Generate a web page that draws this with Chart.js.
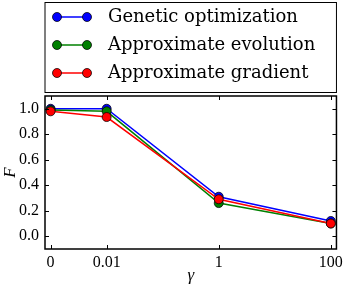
<!DOCTYPE html>
<html>
<head>
<meta charset="utf-8">
<script src="https://cdn.jsdelivr.net/npm/chart.js@4"></script>
<style>
  html, body { margin: 0; padding: 0; background: #fff; }
</style>
</head>
<body>
<canvas id="chart" width="347" height="284"></canvas>
<script>
// gamma values on the x axis; the "0" point is placed one decade below 0.01
const gammaValues = [0.001, 0.01, 1, 100];
const gammaLabels = ["0", "0.01", "1", "100"];
const fTicks = [0, 0.2, 0.4, 0.6, 0.8, 1.0];

const geneticOptimization = [1.0, 1.0, 0.31, 0.12];
const approxEvolution = [0.99, 0.98, 0.26, 0.10];
const approxGradient = [0.98, 0.935, 0.29, 0.10];

const seriesNames = ["Genetic optimization", "Approximate evolution", "Approximate gradient"];
const seriesColors = ["#0000ff", "#008000", "#ff0000"];

const serif = "'Liberation Serif', 'DejaVu Serif', serif";
const legendFont = "18px 'DejaVu Serif', serif";

function makeDataset(i, values) {
  return {
    label: seriesNames[i],
    data: values.map((v, k) => ({ x: gammaValues[k], y: v })),
    borderColor: seriesColors[i],
    backgroundColor: seriesColors[i],
    borderWidth: 1.5,
    pointRadius: 4.5,
    pointBorderColor: "#000",
    pointBorderWidth: 0.75,
    pointBackgroundColor: seriesColors[i],
    tension: 0,
    order: 3 - i, // later series drawn on top
  };
}

// legend drawn as a framed box above the plot, like matplotlib
const boxLegend = {
  id: "boxLegend",
  afterDraw(chart) {
    const ctx = chart.ctx;
    const a = chart.chartArea;
    ctx.save();
    ctx.fillStyle = "#fff";
    ctx.fillRect(a.left, 2.5, a.right - a.left, 90);
    ctx.strokeStyle = "#000";
    ctx.lineWidth = 1;
    ctx.strokeRect(a.left, 2.5, a.right - a.left, 90);
    ctx.font = legendFont;
    ctx.textBaseline = "middle";
    chart.data.datasets.forEach((ds, i) => {
      const y = 17 + i * 28;
      const x0 = a.left + 12, x1 = a.left + 42;
      ctx.strokeStyle = ds.borderColor;
      ctx.lineWidth = 1.5;
      ctx.beginPath();
      ctx.moveTo(x0, y);
      ctx.lineTo(x1, y);
      ctx.stroke();
      [x0, x1].forEach(px => {
        ctx.beginPath();
        ctx.arc(px, y, 4.5, 0, Math.PI * 2);
        ctx.fillStyle = ds.backgroundColor;
        ctx.fill();
        ctx.lineWidth = 0.75;
        ctx.strokeStyle = "#000";
        ctx.stroke();
      });
      ctx.fillStyle = "#000";
      ctx.fillText(ds.label, a.left + 63, y);
    });
    ctx.restore();
  }
};

// plot frame with inward tick marks on all four sides
const frameTicks = {
  id: "frameTicks",
  afterDatasetsDraw(chart) {
    const ctx = chart.ctx;
    const a = chart.chartArea;
    const x = chart.scales.x, y = chart.scales.y;
    ctx.save();
    ctx.strokeStyle = "#000";
    ctx.lineWidth = 1;
    ctx.beginPath();
    x.ticks.forEach(t => {
      const px = Math.round(x.getPixelForValue(t.value)) + 0.5;
      ctx.moveTo(px, a.top); ctx.lineTo(px, a.top + 4);
      ctx.moveTo(px, a.bottom); ctx.lineTo(px, a.bottom - 4);
    });
    y.ticks.forEach(t => {
      const py = Math.round(y.getPixelForValue(t.value)) + 0.5;
      ctx.moveTo(a.left, py); ctx.lineTo(a.left + 4, py);
      ctx.moveTo(a.right, py); ctx.lineTo(a.right - 4, py);
    });
    ctx.stroke();
    ctx.lineWidth = 1.5;
    ctx.strokeRect(a.left, a.top, a.right - a.left, a.bottom - a.top);
    ctx.restore();
  }
};

new Chart(document.getElementById("chart"), {
  type: "line",
  data: {
    datasets: [
      makeDataset(0, geneticOptimization),
      makeDataset(1, approxEvolution),
      makeDataset(2, approxGradient),
    ],
  },
  options: {
    responsive: false,
    animation: false,
    devicePixelRatio: 1,
    layout: { padding: { top: 96, right: 8, left: 0, bottom: 0 } },
    plugins: { legend: { display: false }, tooltip: { enabled: false } },
    scales: {
      x: {
        type: "logarithmic",
        min: Math.pow(10, -3.1),
        max: Math.pow(10, 2.1),
        afterBuildTicks: s => { s.ticks = gammaValues.map(v => ({ value: v })); },
        afterFit: s => { s.height = 35; },
        ticks: {
          callback: (v, i) => gammaLabels[i],
          autoSkip: false,
          maxRotation: 0,
          padding: 4,
          color: "#000",
          font: { family: serif, size: 16 },
        },
        grid: { display: false, drawTicks: false },
        border: { display: false },
        title: {
          display: true,
          text: "γ",
          color: "#000",
          padding: 0,
          font: { family: serif, size: 17, style: "italic", lineHeight: 1 },
        },
      },
      y: {
        min: -0.1,
        max: 1.1,
        afterBuildTicks: s => { s.ticks = fTicks.map(v => ({ value: v })); },
        afterFit: s => { s.width = 45; },
        ticks: {
          callback: v => v.toFixed(1),
          padding: 6,
          color: "#000",
          font: { family: serif, size: 16 },
        },
        grid: { display: false, drawTicks: false },
        border: { display: false },
        title: {
          display: true,
          text: "F",
          color: "#000",
          padding: 0,
          font: { family: serif, size: 17, style: "italic" },
        },
      },
    },
  },
  plugins: [frameTicks, boxLegend],
});
</script>
</body>
</html>
